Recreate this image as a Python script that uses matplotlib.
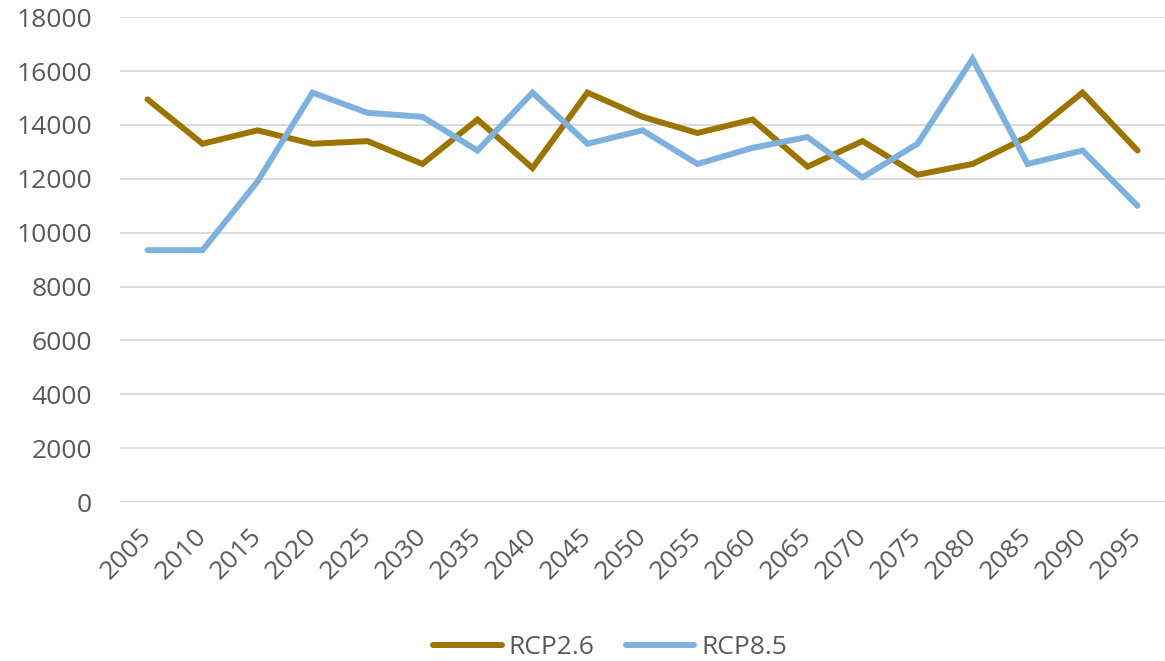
import numpy as np
import matplotlib.pyplot as plt

# Datos
anios = ["2005", "2010", "2015", "2020", "2025", "2030", "2035", "2040", "2045", "2050",
         "2055", "2060", "2065", "2070", "2075", "2080", "2085", "2090", "2095"]
rcp26 = [14950, 13300, 13800, 13300, 13400, 12550, 14200, 12400, 15200, 14300,
         13700, 14200, 12450, 13400, 12150, 12550, 13550, 15200, 13050]
rcp85 = [9350, 9350, 11900, 15200, 14450, 14300, 13050, 15200, 13300, 13800,
         12550, 13150, 13550, 12050, 13300, 16450, 12550, 13050, 11000]

plt.rcParams['font.family'] = ['Open Sans', 'DejaVu Sans']
gris = "#595959"

fig = plt.figure(figsize=(11.65, 6.61), dpi=100)
ax = fig.add_axes([0.103, 0.2405, 0.897, 0.7335])

x = np.arange(len(anios))
ax.plot(x, rcp26, color="#9C7500", lw=4.3, label="RCP2.6", solid_capstyle="round", solid_joinstyle="miter")
ax.plot(x, rcp85, color="#7FB1DF", lw=4.3, label="RCP8.5", solid_capstyle="round", solid_joinstyle="miter")

ax.set_xlim(-0.5, len(anios) - 0.5)
ax.set_ylim(0, 18000)
ax.set_yticks(np.arange(0, 18001, 2000))
ax.set_xticks(x)
ax.set_xticklabels(anios, rotation=45, ha="right", va="center", rotation_mode="anchor")
ax.tick_params(axis="both", length=0, labelsize=19, labelcolor=gris)
ax.tick_params(axis="y", pad=20)
ax.tick_params(axis="x", pad=22)
ax.grid(axis="y", color="#D9D9D9", lw=1.3)
ax.set_axisbelow(True)
for s in ax.spines.values():
    s.set_visible(False)

leg = fig.legend(loc="center", bbox_to_anchor=(610 / 1165, 1 - 648 / 661), ncol=2, frameon=False,
                 fontsize=19, handlelength=2.6, handletextpad=0.25, columnspacing=1.2)
for t in leg.get_texts():
    t.set_color(gris)

plt.savefig("out.png", dpi=100)
